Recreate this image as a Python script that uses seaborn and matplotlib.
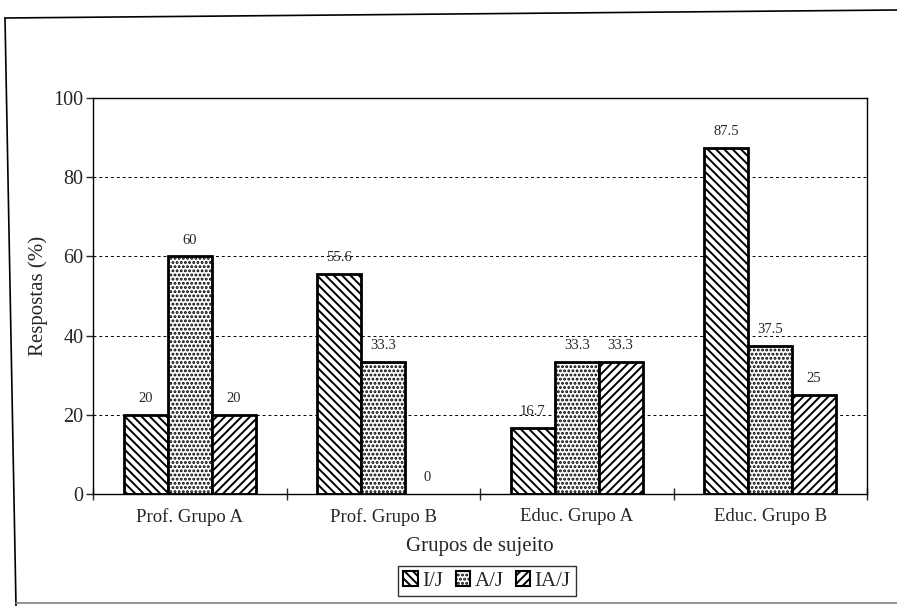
import numpy as np
import pandas as pd
import matplotlib
matplotlib.use('Agg')
import matplotlib.pyplot as plt
from matplotlib.patches import Patch
from matplotlib.lines import Line2D
import seaborn as sns

sns.set_style("white")
plt.rcParams['font.family'] = ['Liberation Serif', 'DejaVu Serif']
plt.rcParams['hatch.linewidth'] = 1.4

groups = ["Prof. Grupo A", "Prof. Grupo B", "Educ. Grupo A", "Educ. Grupo B"]
series = ["I/J", "A/J", "IA/J"]
ij_vals = [20, 55.6, 16.7, 87.5]
aj_vals = [60, 33.3, 33.3, 37.5]
iaj_vals = [20, 0, 33.3, 25]

df = pd.DataFrame({
    "grupo": groups * 3,
    "tipo": [s for s in series for _ in groups],
    "valor": ij_vals + aj_vals + iaj_vals,
})

hatches = ["\\\\\\\\", "....", "////"]

fig = plt.figure(figsize=(8.97, 6.06), dpi=100)
ax = fig.add_axes([93/897, 1 - 494/606, (867 - 93)/897, (494 - 98)/606])

sns.barplot(data=df, x="grupo", y="valor", hue="tipo", order=groups,
            hue_order=series, palette=["white"] * 3, edgecolor="black",
            linewidth=2, width=0.68, ax=ax, legend=False)

for cont, h in zip(ax.containers, hatches):
    for bar in cont:
        bar.set_hatch(h)
        if bar.get_height() == 0:
            bar.set_linewidth(0)
    ax.bar_label(cont, labels=[f"{v:g}" for v in cont.datavalues],
                 padding=7, fontsize=10.5)

ax.set_ylim(0, 100)
ax.set_xlim(-0.5, 3.5)
ax.set_yticks([0, 20, 40, 60, 80, 100])
ax.yaxis.grid(True, linestyle=(0, (3, 3)), color="black", linewidth=0.7)
ax.set_axisbelow(True)
ax.tick_params(axis="y", left=True, length=5, width=1, labelsize=14.5, pad=2)
ax.set_xticks(range(4))
ax.set_xticklabels(groups)
ax.tick_params(axis="x", which="major", length=0, labelsize=13.5, pad=10)
ax.set_xticks(np.arange(-0.5, 4, 1), minor=True)
ax.tick_params(axis="x", which="minor", bottom=True, length=8, width=1, direction="inout")
for s in ax.spines.values():
    s.set_color("black")
    s.set_linewidth(1)

ax.set_xlabel("Grupos de sujeito", fontsize=15, labelpad=8)
ax.set_ylabel("Respostas (%)", fontsize=15, labelpad=4)

handles = [Patch(facecolor="white", edgecolor="black", hatch=h, linewidth=1.5) for h in hatches]
leg = fig.legend(handles, series, loc="center", bbox_to_anchor=(487/897, 1 - 581/606),
                 ncol=3, fontsize=15, frameon=True, fancybox=False, edgecolor="black",
                 handlelength=0.7, handleheight=0.7, handletextpad=0.2,
                 columnspacing=0.6, borderpad=0.25, borderaxespad=0)
leg.get_frame().set_linewidth(1)

# scanned page border
fig.add_artist(Line2D([5/897, 16/897], [1 - 18/606, 1 - 606/606], color="black", linewidth=1.2))
fig.add_artist(Line2D([5/897, 1], [1 - 18/606, 1 - 10/606], color="black", linewidth=1.2))
fig.add_artist(Line2D([16/897, 1], [1 - 603/606, 1 - 603/606], color="gray", linewidth=1.2))

fig.savefig("out.png", dpi=100)
